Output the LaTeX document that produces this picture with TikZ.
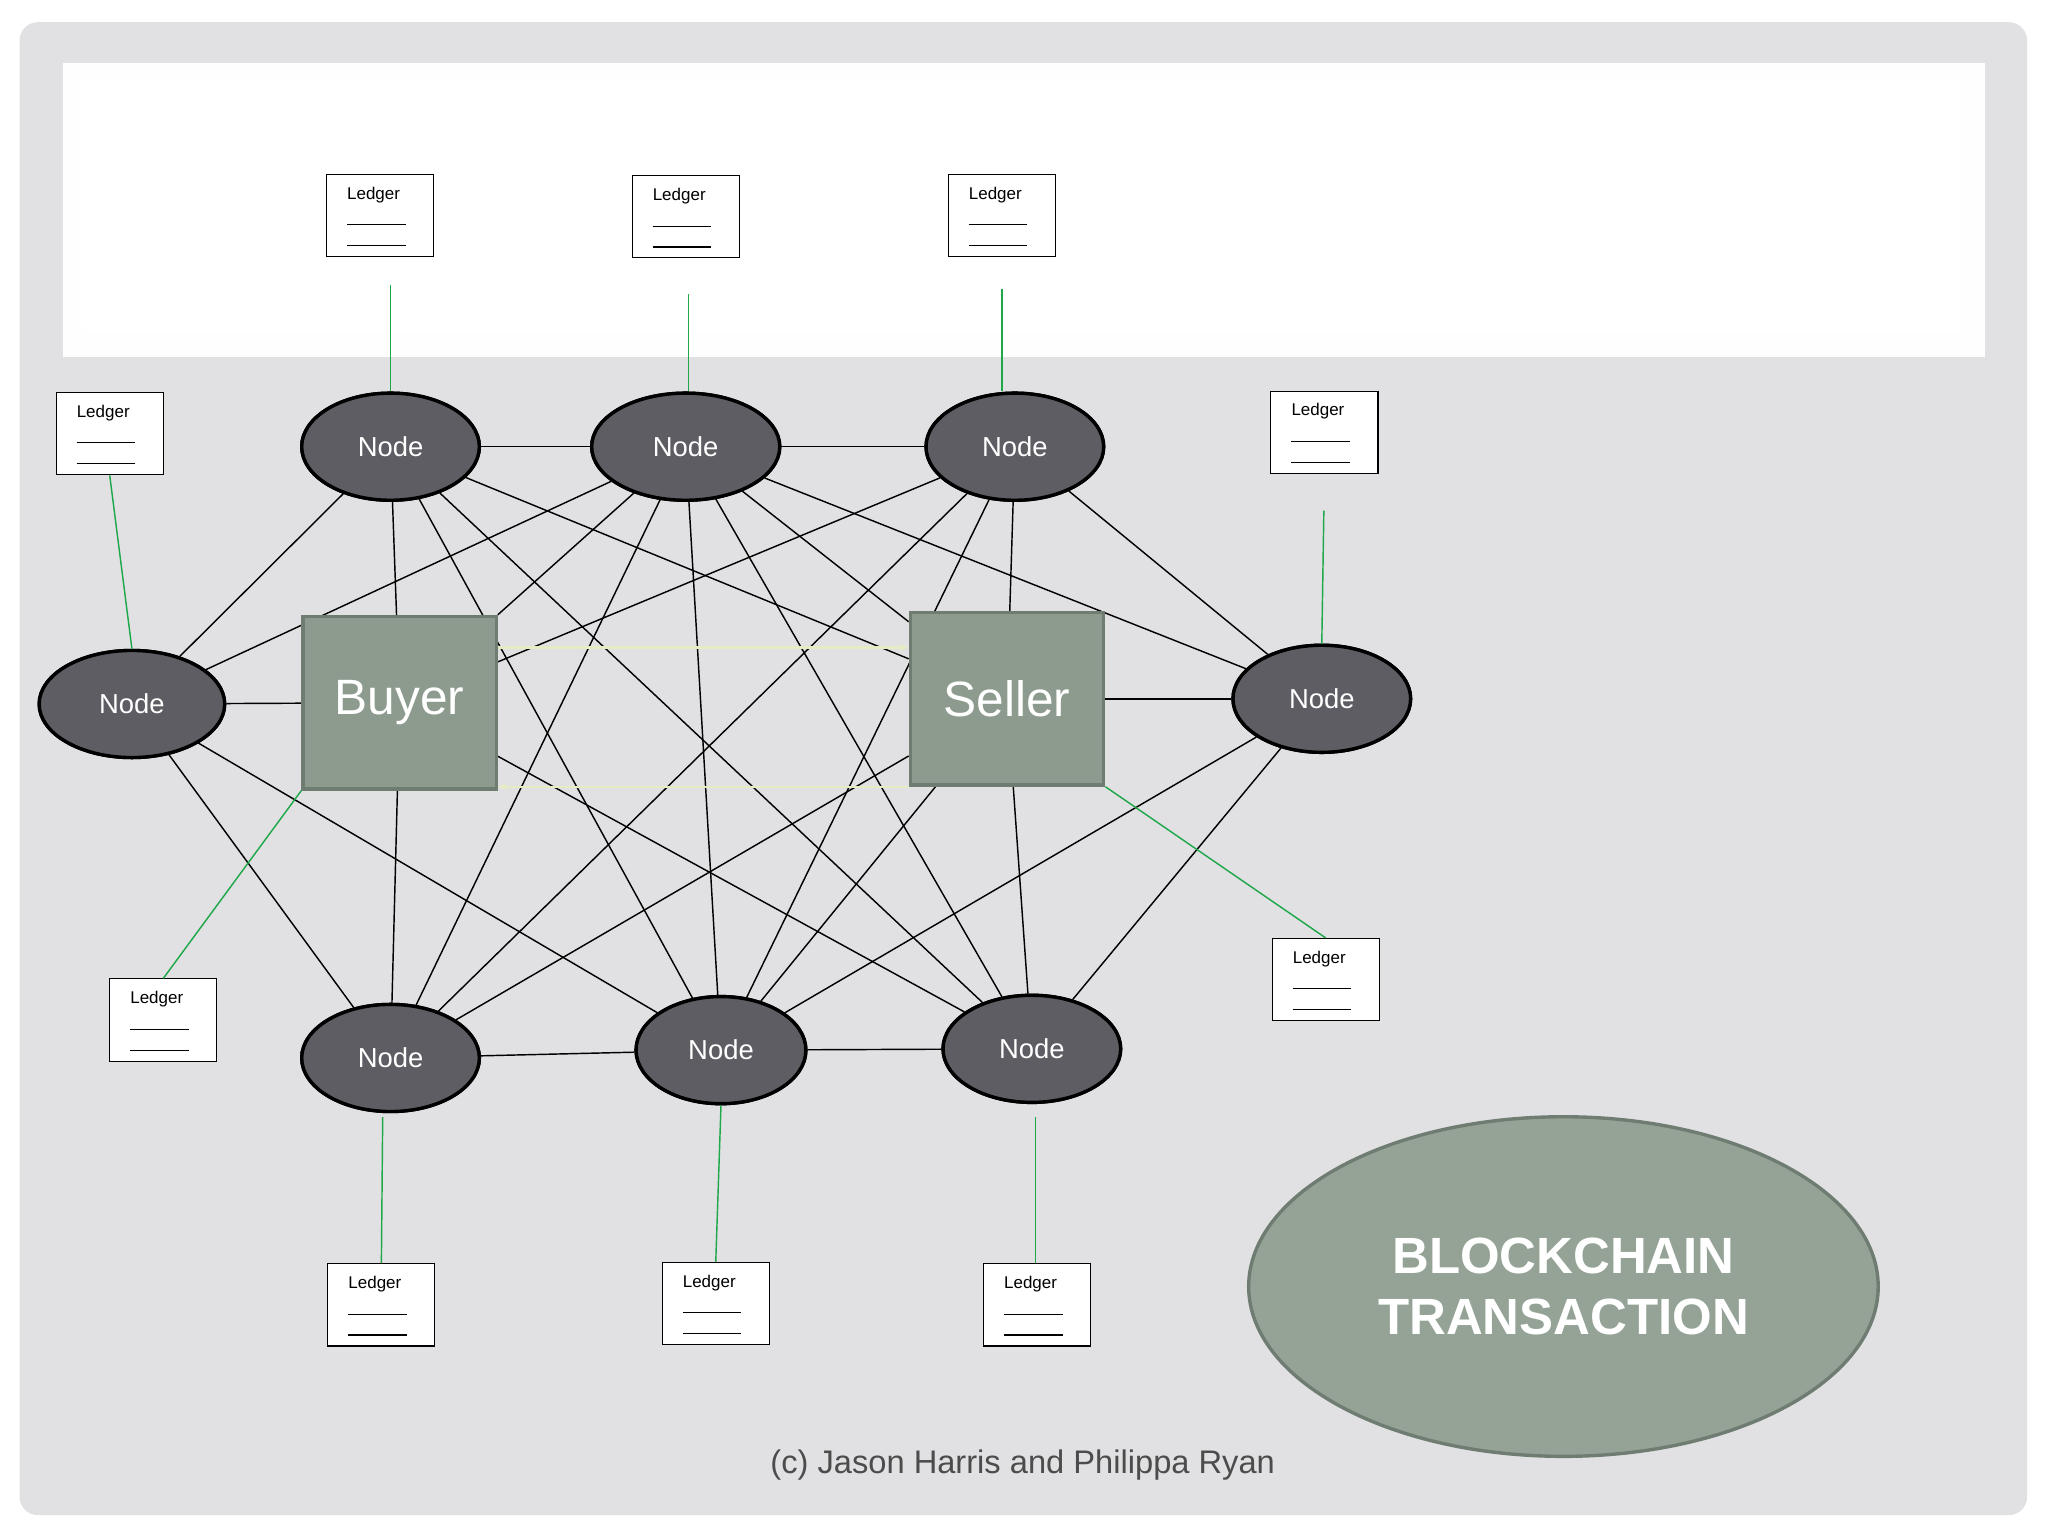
\documentclass[tikz,border=0pt]{standalone}
\usepackage{fontspec}
\setmainfont{Liberation Sans}
\usetikzlibrary{shapes.geometric,calc,arrows.meta}
\definecolor{bg}{HTML}{E1E1E3}
\definecolor{nodefill}{HTML}{5E5D63}
\definecolor{boxfill}{HTML}{8C9B8E}
\definecolor{boxedge}{HTML}{6E7C71}
\definecolor{gl}{HTML}{1FA84A}
\definecolor{ylw}{HTML}{E6EBC4}
\tikzset{
 nd/.style={ellipse,draw=black,line width=2.6pt,fill=nodefill,text=white,font=\fontsize{21}{24}\selectfont,minimum width=136pt,minimum height=82pt,inner sep=0pt},
 bs/.style={rectangle,draw=boxedge,line width=2.6pt,fill=boxfill,text=white,font=\fontsize{38}{44}\selectfont,minimum width=148pt,minimum height=132pt},
 ledger/.style={rectangle,draw=black,line width=0.8pt,fill=white,minimum width=82pt,minimum height=63pt},
 edge/.style={black,line width=1.1pt},
 grn/.style={gl,line width=1.1pt},
}
\newcommand\ledgerbox[3]{%
 \node[ledger] (#1) at (#2,#3) {};
 \node[anchor=west,font=\fontsize{13}{15}\selectfont,inner sep=0pt] (#1t) at ($(#1.north west)+(16,16)$) {Ledger};
 \draw[line width=0.8pt] ($(#1.north west)+(16,39)$) -- ($(#1.north west)+(61,39)$);
 \draw[line width=0.8pt] ($(#1.north west)+(16,55)$) -- ($(#1.north west)+(61,55)$);
}
\begin{document}
\begin{tikzpicture}[x=1pt,y=-1pt]
\useasboundingbox (0,0) rectangle (1568,1176);
\fill[white] (0,0) rectangle (1568,1176);
\fill[bg,rounded corners=14pt] (15,17) rectangle (1552,1160);
\fill[white!96!bg] (48,48) rectangle (1520,273);
\fill[white] (63,63) rectangle (1502,255);

% nodes
\node[nd] (N1) at (299,342) {Node};
\node[nd,minimum width=144pt] (N2) at (525,342) {Node};
\node[nd] (N3) at (777,342) {Node};
\node[nd,minimum width=142pt] (NL) at (101,539) {Node};
\node[nd] (NR) at (1012,535) {Node};
\node[nd] (B1) at (299,810) {Node};
\node[nd,minimum width=130pt] (B2) at (552,804) {Node};
\node[nd] (B3) at (790,803) {Node};
\node[bs] (Buy) at (306,538) {Buyer};
\node[bs] (Sel) at (771,535) {Seller};

% edges
\begin{scope}[on background layer/.style={}]
\draw[edge] (N1) -- (N2);
\draw[edge] (N2) -- (N3);
\draw[edge] (NL) -- (Buy);
\draw[edge] (Sel) -- (NR);
\draw[edge] (B1) -- (B2);
\draw[edge] (B2) -- (B3);
\draw[edge] (N1) -- (NL);
\draw[edge] (N1) -- (Buy);
\draw[edge] (N1) -- (Sel);
\draw[edge] (N1) -- (B2);
\draw[edge] (N1) -- (B3);
\draw[edge] (N2) -- (NL);
\draw[edge] (N2) -- (Buy);
\draw[edge] (N2) -- (Sel);
\draw[edge] (N2) -- (NR);
\draw[edge] (N2) -- (B1);
\draw[edge] (N2) -- (B2);
\draw[edge] (N2) -- (B3);
\draw[edge] (N3) -- (Buy);
\draw[edge] (N3) -- (B1);
\draw[edge] (N3) -- (B2);
\draw[edge] (N3) -- (Sel);
\draw[edge] (N3) -- (NR);
\draw[edge] (Buy) -- (B1);
\draw[edge] (Buy) -- (B3);
\draw[edge] (Sel) -- (B1);
\draw[edge] (Sel) -- (B2);
\draw[edge] (Sel) -- (B3);
\draw[edge] (NL) -- (B1);
\draw[edge] (NL) -- (B2);
\draw[edge] (NR) -- (B2);
\draw[edge] (NR) -- (B3);
\end{scope}
% redraw nodes on top
\node[nd] at (N1) {Node};
\node[nd,minimum width=144pt] at (N2) {Node};
\node[nd] at (N3) {Node};
\node[nd,minimum width=142pt] at (NL) {Node};
\node[nd] at (NR) {Node};
\node[nd] at (B1) {Node};
\node[nd,minimum width=130pt] at (B2) {Node};
\node[nd] at (B3) {Node};
\node[bs] at (Buy) {Buyer};
\node[bs] at (Sel) {Seller};

% transfer arrows
\draw[ylw,line width=1.6pt,-{Stealth[length=7pt]}] ($(Buy.north east)+(0,25)$) -- ($(Sel.north west)+(0,28)$);
\draw[ylw,line width=1.6pt,-{Stealth[length=7pt]}] ($(Sel.south west)+(0,0)$) -- ($(Buy.south east)+(0,-3)$);

% ledgers
\ledgerbox{L1}{291}{165}
\ledgerbox{L2}{525}{166}
\ledgerbox{L3}{767}{165}
\ledgerbox{L4}{84}{332}
\ledgerbox{L5}{1014}{331}
\ledgerbox{L6}{125}{781}
\ledgerbox{L7}{1015}{750}
\ledgerbox{L8}{292}{999}
\ledgerbox{L9}{548}{998}
\ledgerbox{L10}{794}{999}

\draw[grn,shorten <=21pt] (L1.south) ++(8,0) coordinate (g1) -- (g1 |- N1.north);
\draw[grn,shorten <=27pt] (L2.south) ++(2,0) coordinate (g2) -- (g2 |- N2.north);
\draw[grn,shorten <=24pt] (L3.south) -- (L3.south |- N3.north);
\draw[grn] (L4.south) -- (NL.north);
\draw[grn,shorten <=28pt] (L5.south) -- (NR.north);
\draw[grn] (Buy.south west) -- (L6.north);
\draw[grn] (Sel.south east) -- (L7.north);
\draw[grn,shorten >=0pt] (B1.south) ++(-6,3) coordinate (g8) -- (L8.north);
\draw[grn] (B2.south) -- (L9.north);
\draw[grn,shorten <=10pt] (B3.south) ++(3,0) coordinate (g10) -- (g10 |- L10.north);

% title
\node[ellipse,draw=boxedge,line width=2.6pt,fill=boxfill!92!white,minimum width=482pt,minimum height=260pt,text=white,font=\bfseries\fontsize{39}{47}\selectfont,align=center] (T) at (1197,985) {BLOCKCHAIN\\TRANSACTION};
\node[text=black!70,font=\fontsize{25}{30}\selectfont] (F) at (783,1122) {(c) Jason Harris and Philippa Ryan};
\end{tikzpicture}
\end{document}
